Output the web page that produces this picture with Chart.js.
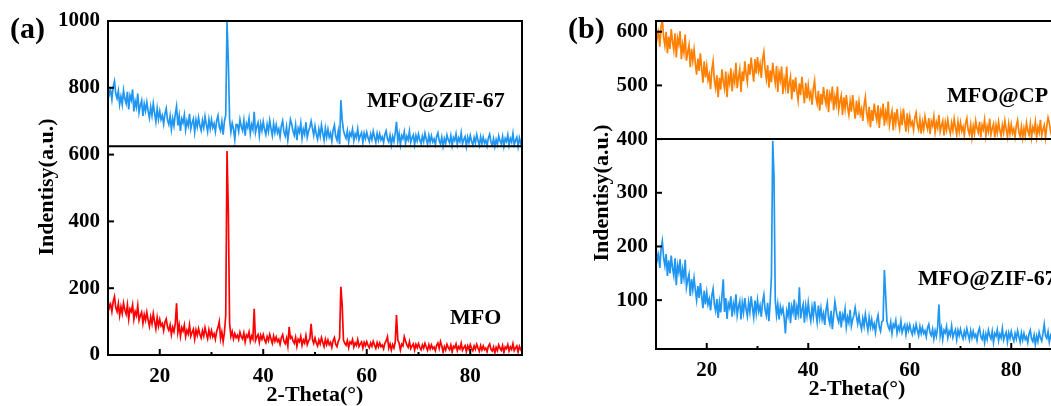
<!DOCTYPE html>
<html><head><meta charset="utf-8">
<script src="https://cdn.jsdelivr.net/npm/chart.js@4/dist/chart.umd.min.js"></script>
<style>
html,body{margin:0;padding:0;background:#fff;overflow:hidden;width:1051px;height:406px;position:relative}
#ca{position:absolute;left:0;top:0}
#cb{position:absolute;left:545px;top:0}
</style></head><body>
<canvas id="ca" width="540" height="406"></canvas>
<canvas id="cb" width="530" height="406"></canvas>
<script>
// 2-Theta grid: first angle and step (degrees)
const angleStart = 10, angleStep = 0.25;

// Panel (a) lower: MFO
const mfoA = [
164,141,152,130,160,175,142,130,154,118, // 10.0
144,124,155,135,122,150,108,138,130,150, // 12.5
107,130,118,148,104,118,128,95,121,104,  // 15.0
128,105,86,114,94,124,100,78,112,86,     // 17.5
106,87,94,73,98,108,84,74,90,61,         // 20.0
83,70,94,155,68,90,56,82,72,90,          // 22.5
55,74,63,90,56,68,77,48,75,59,           // 25.0
79,62,51,73,57,82,64,49,75,55,           // 27.5
73,55,64,47,71,82,100,49,69,40,          // 30.0
68,118,611,430,95,56,70,48,64,52,        // 32.5
59,46,68,55,48,66,39,60,53,69,           // 35.0
41,57,48,138,43,54,61,38,59,47,          // 37.5
61,46,37,55,43,62,48,35,57,41,           // 40.0
54,40,47,32,52,61,41,34,50,27,           // 42.5
84,50,55,42,35,53,26,47,40,56,           // 45.0
29,45,36,58,31,42,49,93,47,35,           // 47.5
51,36,27,45,33,52,38,25,47,31,           // 50.0
45,31,38,23,43,52,32,25,41,50,           // 52.5
204,150,45,35,29,43,22,39,34,46,         // 55.0
24,36,29,46,25,33,39,21,38,28,           // 57.5
40,29,22,36,26,41,30,20,37,24,           // 60.0
36,25,30,19,35,42,55,21,33,15,           // 62.5
31,21,38,120,45,36,15,32,27,55,          // 65.0
42,30,23,40,19,27,33,15,32,22,           // 67.5
34,23,16,30,20,35,24,14,31,18,           // 70.0
30,19,24,13,29,36,20,40,27,9,            // 72.5
25,15,32,22,16,30,9,26,21,33,            // 75.0
13,25,18,35,14,22,28,10,27,17,           // 77.5
31,20,13,27,17,32,21,11,28,15,           // 80.0
27,16,21,10,26,33,17,12,24,6,            // 82.5
23,13,30,20,14,28,7,24,19,31,            // 85.0
12,24,17,34,13,21,27,9,26,16,            // 87.5
22];

// Panel (a) upper: MFO@ZIF-67
const zifA = [
808,780,793,765,803,820,782,768,790,750,
774,750,792,767,753,788,735,777,763,795,
729,760,742,783,726,747,762,716,752,731,
757,730,710,743,717,753,724,698,738,706,
730,705,717,692,722,738,703,690,716,676,
708,686,721,745,687,716,671,707,695,719,
674,701,686,722,677,695,707,668,704,683,
711,687,672,702,681,714,690,669,705,678,
705,681,693,669,702,717,684,672,699,660,
700,718,997,880,705,668,694,676,645,690,
690,669,705,684,672,702,657,693,681,708,
663,690,675,728,666,684,696,657,693,672,
699,675,660,690,669,702,678,657,693,666,
689,665,677,653,686,701,668,656,683,644,
676,705,691,670,658,688,643,679,667,694,
649,676,661,697,652,670,682,700,679,658,
685,661,646,676,655,688,664,643,679,652,
676,652,664,640,673,688,655,643,670,631,
763,705,673,658,649,671,638,665,656,676,
642,662,651,677,644,657,666,637,664,648,
667,650,639,661,645,670,652,637,663,643,
662,644,653,636,660,671,647,638,658,629,
654,639,665,698,641,663,630,657,648,668,
635,655,644,670,637,650,659,630,657,641,
661,644,633,655,639,664,646,631,657,637,
656,638,647,630,654,665,641,632,652,625,
648,633,659,644,635,657,627,651,642,662,
630,650,639,665,632,645,654,625,652,636,
657,640,629,651,635,660,642,627,653,633,
652,634,643,626,650,661,637,628,648,624,
645,630,656,641,632,654,625,648,639,659,
628,648,637,663,630,643,652,624,650,634,
645];

// Panel (b) upper: MFO@CP
const cpB = [
614,588,599,572,610,622,590,574,600,560,
591,568,605,582,566,597,552,588,576,601,
549,576,561,595,546,562,575,534,568,546,
567,541,520,550,527,560,532,505,545,515,
536,510,520,493,529,545,510,495,519,478,
514,492,530,508,494,526,478,516,504,532,
489,519,506,542,495,515,530,488,526,508,
545,521,506,540,520,552,528,507,549,522,
553,527,540,514,548,562,530,512,538,496,
528,506,542,520,504,536,488,524,510,535,
484,512,497,535,485,503,516,474,511,488,
515,490,472,504,482,516,490,467,505,476,
500,477,487,464,494,509,478,466,490,453,
484,464,497,477,465,493,450,484,474,498,
454,479,465,498,455,470,481,445,478,457,
482,459,445,470,451,482,458,438,472,445,
469,446,456,434,463,478,449,435,460,422,
454,434,466,447,435,463,421,453,444,466,
425,450,436,470,426,441,452,416,450,430,
456,433,419,446,426,457,434,414,448,422,
442,426,432,417,440,449,427,418,437,410,
432,418,442,428,419,439,409,433,425,442,
413,431,421,445,414,425,434,407,431,417,
436,420,410,430,416,438,422,408,432,414,
431,415,423,407,429,439,417,409,427,403,
424,410,434,420,412,432,403,426,418,436,
406,424,414,438,408,420,428,403,426,412,
432,416,406,426,412,434,418,404,428,410,
427,411,419,404,425,435,413,405,423,402,
420,406,430,416,408,428,403,422,414,432,
404,422,412,436,406,418,426,403,424,440,
430,414,404,424,410,432,416,403,426,408,
415];

// Panel (b) lower: MFO@ZIF-67
const zifB = [
199,175,185,160,195,210,179,164,186,145,
174,150,183,160,146,178,128,165,152,176,
130,157,141,175,124,138,148,108,139,119,
141,119,100,126,104,132,108,85,118,92,
114,92,102,81,108,121,92,80,102,67,
96,77,108,139,78,104,65,94,86,107,
69,93,80,111,72,88,98,64,95,77,
104,83,70,96,78,107,86,68,99,76,
100,79,90,69,97,110,82,71,95,61,
96,145,397,330,100,72,92,64,88,76,
85,67,38,80,70,96,57,88,77,101,
63,87,74,124,66,82,92,58,89,71,
95,74,61,87,69,98,77,59,90,67,
85,64,75,54,82,95,67,56,80,46,
71,97,81,67,59,79,49,73,65,83,
50,68,58,82,52,64,72,86,70,56,
72,56,46,66,52,74,58,44,68,50,
64,48,56,40,62,72,50,42,60,62,
156,110,61,51,45,59,38,55,50,62,
39,51,44,61,40,48,54,36,53,43,
54,43,36,50,40,55,44,34,51,38,
49,38,43,32,48,55,39,34,46,28,
43,33,50,92,34,48,27,44,39,51,
30,42,35,52,31,39,45,27,44,34,
46,35,28,42,32,47,36,26,43,30,
42,31,36,25,41,48,32,27,39,21,
37,27,44,34,28,42,21,38,33,45,
25,37,30,47,26,34,40,22,39,29,
42,31,24,38,28,43,32,22,39,26,
38,27,32,21,37,44,28,23,35,17,
33,23,40,30,24,38,55,34,29,41,
22,34,27,44,23,31,37,19,36,26,
30];

const xTicks = [20, 40, 60, 80];
const xMinorTicks = [30, 50, 70];
const yTicksA = [0, 200, 400, 600, 800, 1000];
const yTicksB = [100, 200, 300, 400, 500, 600];

const SERIF = '"Liberation Serif", "Times New Roman", serif';
const BLUE = '#1e96f2', RED = '#ff0000', ORANGE = '#ff8000';

function pts(arr) { return arr.map((v, i) => ({ x: angleStart + i * angleStep, y: v })); }

const framePlugin = {
  id: 'frame',
  afterDraw(chart, args, o) {
    const { ctx, chartArea: a, scales: { x, y } } = chart;
    ctx.save();
    ctx.strokeStyle = '#000';
    ctx.lineWidth = 2;
    const line = (x1, y1, x2, y2) => { ctx.beginPath(); ctx.moveTo(x1, y1); ctx.lineTo(x2, y2); ctx.stroke(); };
    ctx.strokeRect(a.left, a.top, a.right - a.left, a.bottom - a.top);
    const yd = y.getPixelForValue(o.divider);
    line(a.left, yd, a.right, yd);
    xTicks.forEach(v => { const p = x.getPixelForValue(v); line(p, a.bottom, p, a.bottom - 6); });
    xMinorTicks.forEach(v => { const p = x.getPixelForValue(v); line(p, a.bottom, p, a.bottom - 3); });
    o.yTicks.forEach(v => { const p = y.getPixelForValue(v); line(a.left, p, a.left + 6, p); });
    ctx.fillStyle = '#000';
    o.texts.forEach(t => {
      ctx.font = t.font;
      ctx.textAlign = t.align || 'left';
      ctx.textBaseline = t.base || 'alphabetic';
      if (t.rot) {
        ctx.save(); ctx.translate(t.x, t.y); ctx.rotate(-Math.PI / 2);
        ctx.fillText(t.text, 0, 0); ctx.restore();
      } else ctx.fillText(t.text, t.x, t.y);
    });
    ctx.restore();
  }
};

function makeChart(id, cfg) {
  return new Chart(document.getElementById(id), {
    type: 'line',
    data: { datasets: cfg.sets.map(s => ({ data: pts(s.data), borderColor: s.color, borderWidth: 1.7, pointRadius: 0, tension: 0, fill: false })) },
    options: {
      responsive: false, animation: false, devicePixelRatio: 1,
      layout: { padding: { top: 21, right: cfg.padRight, bottom: 0, left: 0 } },
      plugins: { legend: { display: false }, tooltip: { enabled: false }, frame: cfg.frame },
      scales: {
        x: {
          type: 'linear', min: 10, max: 90,
          grid: { display: false, drawTicks: false }, border: { display: false },
          ticks: { color: '#000', font: { family: SERIF, weight: 'bold', size: 21 }, padding: 9, maxRotation: 0, callback: v => String(v) },
          afterBuildTicks: s => { s.ticks = xTicks.map(v => ({ value: v })); },
          afterFit: s => { s.height = cfg.xHeight; }
        },
        y: {
          type: 'linear', min: cfg.yMin, max: cfg.yMax,
          grid: { display: false, drawTicks: false }, border: { display: false },
          ticks: { color: '#000', font: { family: SERIF, weight: 'bold', size: 21 }, padding: 8, callback: v => String(v) },
          afterBuildTicks: s => { s.ticks = cfg.yTicks.map(v => ({ value: v })); },
          afterFit: s => { s.width = cfg.yWidth; }
        }
      }
    },
    plugins: [framePlugin]
  });
}

const F22 = 'bold 22px ' + SERIF;
makeChart('ca', {
  sets: [{ data: mfoA, color: RED }, { data: zifA, color: BLUE }],
  yMin: 0, yMax: 1000, yTicks: yTicksA, yWidth: 108, xHeight: 51, padRight: 18,
  frame: {
    divider: 625, yTicks: yTicksA,
    texts: [
      { text: '(a)', x: 10, y: 38, font: 'bold 30px ' + SERIF },
      { text: 'Indentisy(a.u.)', x: 47, y: 187, font: F22, rot: true, align: 'center', base: 'middle' },
      { text: '2-Theta(°)', x: 315, y: 401, font: F22, align: 'center' },
      { text: 'MFO@ZIF-67', x: 367, y: 107, font: F22 },
      { text: 'MFO', x: 450, y: 324, font: F22 }
    ]
  }
});
makeChart('cb', {
  sets: [{ data: cpB, color: ORANGE }, { data: zifB, color: BLUE }],
  yMin: 9, yMax: 620, yTicks: yTicksB, yWidth: 111, xHeight: 57, padRight: 13,
  frame: {
    divider: 400, yTicks: yTicksB,
    texts: [
      { text: '(b)', x: 23, y: 38, font: 'bold 30px ' + SERIF },
      { text: 'Indentisy(a.u.)', x: 57, y: 193, font: F22, rot: true, align: 'center', base: 'middle' },
      { text: '2-Theta(°)', x: 312, y: 395, font: F22, align: 'center' },
      { text: 'MFO@CP', x: 402, y: 102, font: F22 },
      { text: 'MFO@ZIF-67', x: 373, y: 285, font: F22 }
    ]
  }
});
</script>
</body></html>
